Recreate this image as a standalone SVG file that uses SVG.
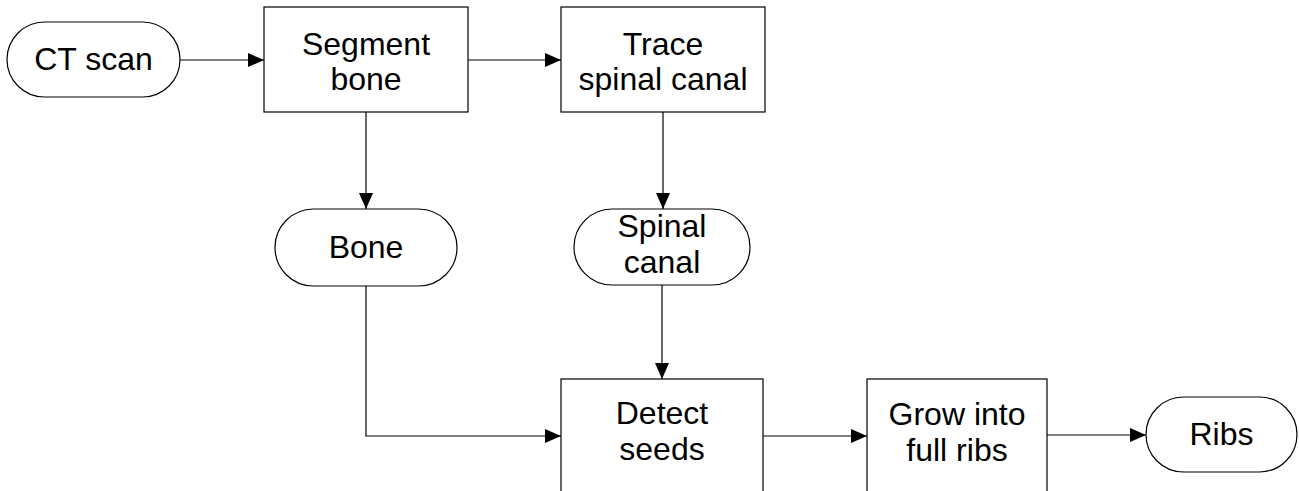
<svg xmlns="http://www.w3.org/2000/svg" width="1299" height="491" viewBox="0 0 1299 491">
  <defs>
    <style>
      .shape { fill: #ffffff; stroke: #000000; stroke-width: 1.2; }
      .label { font-family: "Liberation Sans", Arial, sans-serif; font-size: 32px; fill: #000000; text-anchor: middle; }
      .wire { fill: none; stroke: #000000; stroke-width: 1.2; marker-end: url(#arrow); }
    </style>
    <marker id="arrow" markerWidth="16" markerHeight="14" refX="16" refY="7" orient="auto" markerUnits="userSpaceOnUse">
      <path d="M0,0 L16,7 L0,14 Z" fill="#000000"/>
    </marker>
  </defs>
  <rect width="1299" height="491" fill="#ffffff"/>

  <!-- connectors -->
  <g id="connectors">
    <path class="wire" d="M180,60 L264,60"/>
    <path class="wire" d="M468,60 L561,60"/>
    <path class="wire" d="M366,112 L366,209"/>
    <path class="wire" d="M663,112 L663,209"/>
    <path class="wire" d="M662,285 L662,379"/>
    <path class="wire" d="M366,286 L366,436 L561,436"/>
    <path class="wire" d="M763,436 L867,436"/>
    <path class="wire" d="M1047,435 L1146,435"/>
  </g>

  <g id="ct-scan">
    <rect class="shape" x="7" y="22" width="173" height="75" rx="37.5" ry="37.5"/>
    <text class="label" x="93.5" y="70">CT scan</text>
  </g>

  <g id="segment-bone">
    <rect class="shape" x="264" y="7" width="204" height="105"/>
    <text class="label" x="366" y="55">Segment</text>
    <text class="label" x="366" y="90">bone</text>
  </g>

  <g id="trace-spinal-canal">
    <rect class="shape" x="561" y="7" width="204" height="105"/>
    <text class="label" x="663" y="55">Trace</text>
    <text class="label" x="663" y="90">spinal canal</text>
  </g>

  <g id="bone">
    <rect class="shape" x="275" y="209" width="182" height="77" rx="38.5" ry="38.5"/>
    <text class="label" x="366" y="258">Bone</text>
  </g>

  <g id="spinal-canal">
    <rect class="shape" x="574" y="209" width="176" height="76" rx="38" ry="38"/>
    <text class="label" x="662" y="237">Spinal</text>
    <text class="label" x="662" y="273">canal</text>
  </g>

  <g id="detect-seeds">
    <rect class="shape" x="561" y="379" width="202" height="150"/>
    <text class="label" x="662" y="424">Detect</text>
    <text class="label" x="662" y="460">seeds</text>
  </g>

  <g id="grow-into-full-ribs">
    <rect class="shape" x="867" y="379" width="180" height="150"/>
    <text class="label" x="957" y="425">Grow into</text>
    <text class="label" x="957" y="461">full ribs</text>
  </g>

  <g id="ribs">
    <rect class="shape" x="1146" y="397" width="151" height="75" rx="37.5" ry="37.5"/>
    <text class="label" x="1221.5" y="445">Ribs</text>
  </g>
</svg>
